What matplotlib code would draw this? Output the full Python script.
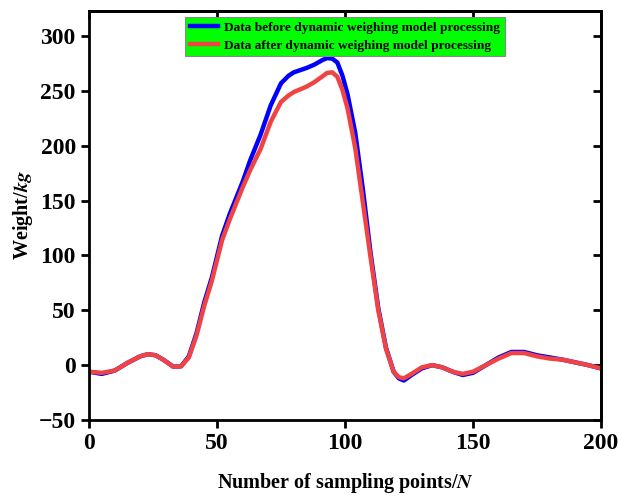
import numpy as np
import matplotlib.pyplot as plt

plt.rcParams['font.family'] = 'Liberation Serif'
plt.rcParams['font.weight'] = 'bold'
plt.rcParams['mathtext.fontset'] = 'stix'

# sampling points and weights
n = [0, 5, 10, 15, 20, 23, 26, 29, 33, 36, 39, 42, 45, 48, 52, 55, 60, 63, 67, 71,
     75, 78, 80, 85, 88, 91, 93, 95, 97, 99, 101, 104, 107, 110, 113, 116, 119, 121, 123, 126, 130,
     134, 138, 142, 146, 150, 155, 160, 165, 170, 175, 180, 185, 190, 195, 200]
before = [-6, -8, -5, 2, 8, 10, 9, 5, -1.5, -1, 8, 29, 57, 80, 118, 138, 167, 187, 210, 237,
          257, 264, 267, 271, 274, 278, 280, 279.5, 276, 264, 247, 212, 160, 102, 52, 16, -6, -12, -14, -9, -3,
          0, -2, -6, -9, -7, 0, 7, 12, 12, 9, 7, 5, 2.5, 0, -3]
after = [-6, -7, -5, 2, 8, 10, 9, 5, -1.5, -1, 7, 27, 54, 77, 114, 133, 162, 178, 197, 222,
         240, 246, 249, 254, 258, 263, 266.5, 267, 263, 251, 234, 198, 148, 98, 50, 15, -6, -11, -12, -8, -2,
         0, -2, -6, -8, -6, 0, 6, 11, 11, 8, 6, 5, 2.5, 0, -3]

fig = plt.figure(figsize=(6.18, 4.97), dpi=100)
ax = fig.add_axes([0.144, 0.155, 0.8285, 0.823])

ax.plot(n, before, color='#0000FF', lw=3.2, label='Data before dynamic weighing model processing')
ax.plot(n, after, color='#F04444', lw=3.2, label='Data after dynamic weighing model processing')

ax.set_xlim(0, 200)
ax.set_ylim(-50, 323)
ax.set_xticks([0, 50, 100, 150, 200])
ax.set_yticks([-50, 0, 50, 100, 150, 200, 250, 300])

for s in ax.spines.values():
    s.set_linewidth(2)
ax.tick_params(axis='both', which='major', direction='out', length=6, width=2,
               labelsize=17, top=False, right=False)
ax2 = ax.secondary_xaxis('top')
ax2.set_xticks([0, 50, 100, 150, 200])
ax2.tick_params(direction='in', length=6, width=2, labeltop=False)
ax3 = ax.secondary_yaxis('right')
ax3.set_yticks([-50, 0, 50, 100, 150, 200, 250, 300])
ax3.tick_params(direction='in', length=6, width=2, labelright=False)
for a in (ax2, ax3):
    for s in a.spines.values():
        s.set_linewidth(2)

ax.set_xlabel(r'Number of sampling points/$\mathbfit{N}$', fontsize=14.5, fontweight='bold', labelpad=12)
ax.set_ylabel(r'Weight/$\mathbfit{kg}$', fontsize=14.5, fontweight='bold', labelpad=3)

leg = ax.legend(loc='upper center', bbox_to_anchor=(0.5, 0.985), fontsize=9.6,
                handlelength=2.1, borderpad=0.35, labelspacing=0.4, handletextpad=0.5,
                fancybox=False, framealpha=1, borderaxespad=0)
leg.get_frame().set_facecolor('#00FF00')
leg.get_frame().set_edgecolor('#888888')
leg.get_frame().set_linewidth(0.8)

plt.savefig('out.png', dpi=100)
